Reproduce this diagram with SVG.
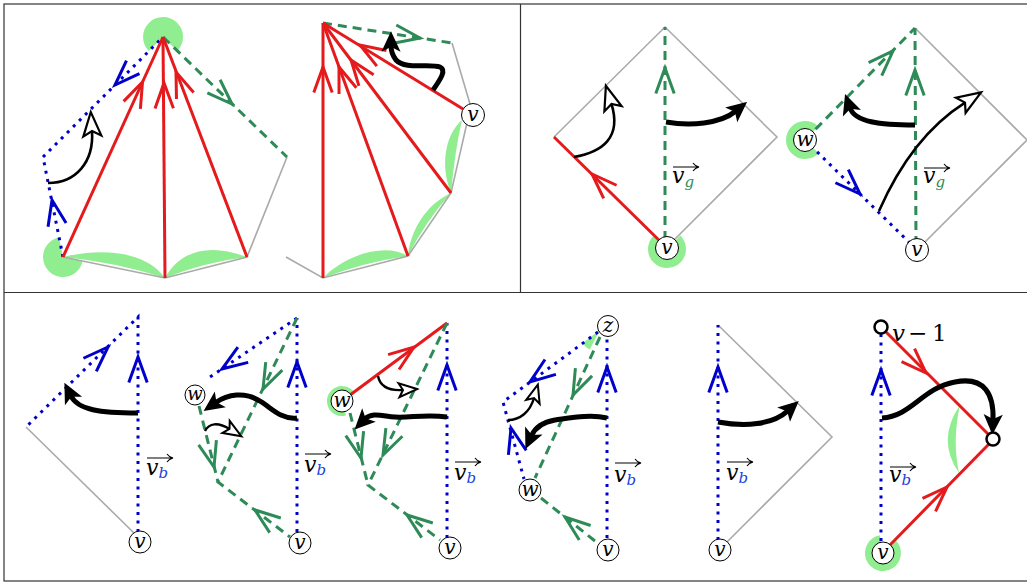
<svg xmlns="http://www.w3.org/2000/svg" xmlns:xlink="http://www.w3.org/1999/xlink" width="1027" height="583" viewBox="0 0 1027 583">
<style>
.gr{stroke:#aaa;stroke-width:1.6;fill:none}
.rd{stroke:#e41a1c;stroke-width:3;fill:none}
.gd{stroke:#2e8b57;stroke-width:3;fill:none;stroke-dasharray:9 6}
.bd{stroke:#0000cc;stroke-width:3;fill:none;stroke-dasharray:3 5.5}
.lg{fill:#90ee90;stroke:none}
.chr,.chg,.chb{fill:none;stroke-width:3;stroke-linejoin:miter}
.chr{stroke:#e41a1c}.chg{stroke:#2e8b57}.chb{stroke:#0000cc}
.thk{stroke:#000;stroke-width:5;fill:none;marker-end:url(#hf)}
.thn{stroke:#000;stroke-width:2.6;fill:none;marker-end:url(#ho)}
.ths{stroke:#000;stroke-width:2.4;fill:none;marker-end:url(#hs)}
.nd circle{fill:#fff;stroke:#000;stroke-width:1}
.nd text{font-family:"DejaVu Serif","Liberation Serif",serif;font-style:italic;font-size:20px;text-anchor:middle;fill:#000}
.sm circle{fill:#fff;stroke:#000;stroke-width:2.5}
.lbl{font-family:"DejaVu Serif","Liberation Serif",serif;font-style:italic;font-size:22px;fill:#000}
.sg{font-size:15px;fill:#2e8b57}
.sb{font-size:15px;fill:#2340d8}
.vec{stroke:#000;stroke-width:1.1;fill:none}
.frame{stroke:#333;stroke-width:1.2;fill:none}
</style>
<defs>
<path id="ch" d="M-25.4,-9.2 L0,0 L-25.4,9.2"/>
<marker id="hf" markerUnits="userSpaceOnUse" markerWidth="30" markerHeight="30" refX="0" refY="0" orient="auto" overflow="visible"><path d="M13,0 L-4,-8 L0,0 L-4,8 Z" fill="#000" stroke="#000" stroke-width="1.5"/></marker>
<marker id="ho" markerUnits="userSpaceOnUse" markerWidth="30" markerHeight="30" refX="0" refY="0" orient="auto" overflow="visible"><path d="M19,0 L-5,-9 L0,0 L-5,9 Z" fill="#fff" stroke="#000" stroke-width="2.2"/></marker>
<marker id="hs" markerUnits="userSpaceOnUse" markerWidth="30" markerHeight="30" refX="0" refY="0" orient="auto" overflow="visible"><path d="M14,0 L-4,-7 L0,0 L-4,7 Z" fill="#fff" stroke="#000" stroke-width="2"/></marker>
</defs>
<rect width="1027" height="583" fill="#fff"/>
<g id="frame">
<rect class="frame" x="4" y="4" width="1030" height="577"/>
<line class="frame" x1="4" y1="292.5" x2="1030" y2="292.5"/>
<line class="frame" x1="520.5" y1="4" x2="520.5" y2="292.5"/>
</g>

<!-- Panel 1 -->
<g id="panel1">
<path class="lg" d="M63,257 C100,248 145,250 165,278 Q115,262 63,257 Z"/>
<path class="lg" d="M165,278 C180,250 210,243 247,257 Q205,262 165,278 Z"/>
<path class="lg" d="M163,37 L148.9,51.1 A20,20 0 1 1 177.4,50.9 Z"/>
<path class="lg" d="M63,257 L82.6,261 A20,20 0 1 1 59,237.4 Z"/>
<g id="p1-connectors">
<polyline class="gr" points="63,257 165,278 247,257 287,157"/>
<line class="gd" x1="163" y1="37" x2="287" y2="157"/>
<polyline class="bd" points="63,257 43,157 163,37"/>
<line class="rd" x1="63" y1="257" x2="163" y2="37"/>
<line class="rd" x1="165" y1="278" x2="163" y2="37"/>
<line class="rd" x1="247" y1="257" x2="163" y2="37"/>
<use xlink:href="#ch" class="chb" transform="translate(52,200) rotate(-101.5)"/>
<use xlink:href="#ch" class="chb" transform="translate(115,85) rotate(135)"/>
<use xlink:href="#ch" class="chg" transform="translate(232,104) rotate(44)"/>
<use xlink:href="#ch" class="chr" transform="translate(142.5,82) rotate(-65.6)"/>
<use xlink:href="#ch" class="chr" transform="translate(164,83) rotate(-90.5)"/>
<use xlink:href="#ch" class="chr" transform="translate(176,72) rotate(-110.9)"/>
<path class="thn" d="M48,183 C76,183 94,162 92,131"/>
</g>
</g>

<!-- Panel 2 -->
<g id="panel2">
<path class="lg" d="M323,278 C345,255 385,242 408,256 Q365,262 323,278 Z"/>
<path class="lg" d="M408,256 C410,232 425,205 451,193 Q425,222 408,256 Z"/>
<path class="lg" d="M451,193 C440,165 445,135 462,120 Q455,150 451,193 Z"/>
<g id="p2-connectors">
<polyline class="gr" points="286,257 323,278 408,256 451,193 469,114"/>
<line class="gr" x1="470" y1="104" x2="452" y2="43"/>
<line class="gd" x1="323" y1="23" x2="452" y2="43"/>
<line class="rd" x1="323" y1="278" x2="323" y2="23"/>
<line class="rd" x1="408" y1="256" x2="323" y2="23"/>
<line class="rd" x1="451" y1="193" x2="323" y2="23"/>
<line class="rd" x1="463" y1="109" x2="323" y2="23"/>
<use xlink:href="#ch" class="chr" transform="translate(323,67) rotate(-90)"/>
<use xlink:href="#ch" class="chr" transform="translate(339,67) rotate(-110)"/>
<use xlink:href="#ch" class="chr" transform="translate(351,60) rotate(-127)"/>
<use xlink:href="#ch" class="chr" transform="translate(360,45) rotate(-148.5)"/>
<use xlink:href="#ch" class="chg" transform="translate(420,38) rotate(8.8)"/>
<path class="thk" d="M433,90 C440,80 447,70 440,67 C430,63 405,70 396,60 C393,56 391,52 391,46"/>
</g>
<g id="p2-v" class="nd"><circle cx="473" cy="115" r="11.5"/><text x="473" y="120.5">v</text></g>
</g>

<!-- Panel 3 -->
<g id="panel3">
<path class="lg" d="M667,249 L680.4,235.6 A19,19 0 1 1 653.5,235.7 Z"/>
<g id="p3-connectors">
<polyline class="gr" points="554,137 665,27 777,137 672,242"/>
<line class="rd" x1="667" y1="248" x2="554" y2="137"/>
<line class="gd" x1="665" y1="240" x2="665" y2="27"/>
<use xlink:href="#ch" class="chr" transform="translate(592,174) rotate(-135.5)"/>
<use xlink:href="#ch" class="chg" transform="translate(665,68) rotate(-90)"/>
<path class="thn" d="M574,157 C602,152 622,138 611.5,104"/>
<path class="thk" d="M666,122 C690,126 720,124 735.6,111.3"/>
</g>
<g id="p3-label"><text class="lbl" x="672" y="183">v<tspan class="sg" dx="0" dy="4">g</tspan></text><path class="vec" d="M673,167 H698 M693,163 Q695,166 699,167 Q695,168 693,171"/></g>
<g id="p3-v" class="nd"><circle cx="667" cy="248" r="11.5"/><text x="667" y="253.5">v</text></g>
</g>

<!-- Panel 4 -->
<g id="panel4">
<path class="lg" d="M805,140 L818.6,153.3 A19,19 0 1 1 818.3,126.4 Z"/>
<g id="p4-connectors">
<polyline class="gr" points="915,28 1027,140 917,250"/>
<line class="gd" x1="805" y1="140" x2="915" y2="28"/>
<line class="gd" x1="916" y1="245" x2="915" y2="28"/>
<line class="bd" x1="805" y1="140" x2="917" y2="250"/>
<use xlink:href="#ch" class="chg" transform="translate(893,51) rotate(-45.5)"/>
<use xlink:href="#ch" class="chg" transform="translate(915,70) rotate(-90)"/>
<use xlink:href="#ch" class="chb" transform="translate(860,194) rotate(44.5)"/>
<path class="thk" d="M915,125 C880,125 855,122 850,108"/>
<path class="thn" d="M879,211 C897,170 925,128 965,102.6"/>
</g>
<g id="p4-label"><text class="lbl" x="923" y="183">v<tspan class="sg" dx="0" dy="4">g</tspan></text><path class="vec" d="M924,168 H949 M944,164 Q946,167 950,168 Q946,169 944,172"/></g>
<g id="p4-w" class="nd"><circle cx="805" cy="140" r="11.5"/><text x="805" y="145.5">w</text></g>
<g id="p4-v" class="nd"><circle cx="917" cy="250" r="11.5"/><text x="917" y="255.5">v</text></g>
</g>

<!-- Panel 5 -->
<g id="panel5">
<g id="p5-connectors">
<line class="gr" x1="26" y1="427" x2="134" y2="533"/>
<polyline class="bd" points="138,532 138,317 26,427"/>
<use xlink:href="#ch" class="chb" transform="translate(138,357) rotate(-90)"/>
<use xlink:href="#ch" class="chb" transform="translate(108,347) rotate(-44.5)"/>
<path class="thk" d="M138,413 C100,413 78,410 71,396"/>
</g>
<g id="p5-label"><text class="lbl" x="146" y="475">v<tspan class="sb" dx="0" dy="3">b</tspan></text><path class="vec" d="M147,458 H172 M167,454 Q169,457 173,458 Q169,459 167,462"/></g>
<g id="p5-v" class="nd"><circle cx="140" cy="542" r="11"/><text x="140" y="547.5">v</text></g>
</g>

<!-- Panel 6 -->
<g id="panel6">
<g id="p6-connectors">
<line class="bd" x1="297" y1="532" x2="297" y2="318"/>
<line class="bd" x1="297" y1="318" x2="207" y2="379"/>
<polyline class="gd" points="297,318 218,482 290,537"/>
<line class="gd" x1="199" y1="406" x2="218" y2="482"/>
<use xlink:href="#ch" class="chb" transform="translate(297,362) rotate(-90)"/>
<use xlink:href="#ch" class="chb" transform="translate(222,369) rotate(145.9)"/>
<use xlink:href="#ch" class="chg" transform="translate(263,389) rotate(115.7)"/>
<use xlink:href="#ch" class="chg" transform="translate(214,467) rotate(75.2)"/>
<use xlink:href="#ch" class="chg" transform="translate(255,510) rotate(-142.9)"/>
<path class="thk" d="M297,418 C280,420 270,406 258,400 C245,392 228,394 215.7,402.6"/>
<path class="ths" d="M205,431 C209,423 218,422 229.5,429"/>
</g>
<g id="p6-label"><text class="lbl" x="304" y="472">v<tspan class="sb" dx="0" dy="3">b</tspan></text><path class="vec" d="M305,454 H330 M325,450 Q327,453 331,454 Q327,455 325,458"/></g>
<g id="p6-w" class="nd"><circle cx="195" cy="395" r="10"/><text x="195" y="400" style="font-size:18px">w</text></g>
<g id="p6-v" class="nd"><circle cx="300" cy="543" r="11"/><text x="300" y="548.5">v</text></g>
</g>

<!-- Panel 7 -->
<g id="panel7">
<path class="lg" d="M342,401 L345.9,415.5 A15,15 0 1 1 354.1,392.2 Z"/>
<g id="p7-connectors">
<line class="bd" x1="447" y1="538" x2="447" y2="323"/>
<line class="rd" x1="342" y1="401" x2="447" y2="323"/>
<polyline class="gd" points="447,323 368,485 440,540"/>
<line class="gd" x1="350" y1="413" x2="368" y2="485"/>
<use xlink:href="#ch" class="chr" transform="translate(414,347) rotate(-36.4)"/>
<use xlink:href="#ch" class="chb" transform="translate(447,365) rotate(-90)"/>
<use xlink:href="#ch" class="chg" transform="translate(383,455) rotate(116)"/>
<use xlink:href="#ch" class="chg" transform="translate(361,458) rotate(75.6)"/>
<use xlink:href="#ch" class="chg" transform="translate(407,515) rotate(-142.9)"/>
<path class="thk" d="M447,417 C425,414 410,418 395,417 C382,416 372,412 365,419"/>
<path class="ths" d="M378,376 C380,386 388,391 403,390"/>
</g>
<g id="p7-label"><text class="lbl" x="454" y="480">v<tspan class="sb" dx="0" dy="3">b</tspan></text><path class="vec" d="M455,462 H480 M475,458 Q477,461 481,462 Q477,463 475,466"/></g>
<g id="p7-w" class="nd"><circle cx="342" cy="401" r="11"/><text x="342" y="406.5">w</text></g>
<g id="p7-v" class="nd"><circle cx="450" cy="548" r="11"/><text x="450" y="553.5">v</text></g>
</g>

<!-- Panel 8 -->
<g id="panel8">
<path class="lg" d="M600,330 L589.7,349.4 A22,22 0 0 1 582.4,343.2 Z"/>
<g id="p8-connectors">
<line class="bd" x1="607" y1="538" x2="607" y2="337"/>
<polyline class="bd" points="598,332 503,402 524,479"/>
<line class="gd" x1="600" y1="337" x2="535" y2="478"/>
<line class="gd" x1="541" y1="498" x2="600" y2="545"/>
<use xlink:href="#ch" class="chb" transform="translate(607,367) rotate(-90)"/>
<use xlink:href="#ch" class="chb" transform="translate(530,382) rotate(143.6)"/>
<use xlink:href="#ch" class="chb" transform="translate(511,428) rotate(-104.4)"/>
<use xlink:href="#ch" class="chg" transform="translate(573,395) rotate(115)"/>
<use xlink:href="#ch" class="chg" transform="translate(565,517) rotate(-141.7)"/>
<path class="ths" d="M508,420 C520,420 530,412 534,398"/>
<path class="thk" d="M607,418 C590,414 570,418 555,420 C543,422 535,428 531.5,435.7"/>
</g>
<g id="p8-label"><text class="lbl" x="614" y="482">v<tspan class="sb" dx="0" dy="3">b</tspan></text><path class="vec" d="M615,463 H640 M635,459 Q637,462 641,463 Q637,464 635,467"/></g>
<g id="p8-z" class="nd"><circle cx="608" cy="326" r="10.5"/><text x="608" y="331.5">z</text></g>
<g id="p8-w" class="nd"><circle cx="530" cy="490" r="11"/><text x="530" y="495.5">w</text></g>
<g id="p8-v" class="nd"><circle cx="608" cy="550" r="11"/><text x="608" y="555.5">v</text></g>
</g>

<!-- Panel 9 -->
<g id="panel9">
<g id="p9-connectors">
<polyline class="gr" points="718,325 832,437 727,542"/>
<line class="bd" x1="718" y1="540" x2="718" y2="325"/>
<use xlink:href="#ch" class="chb" transform="translate(718,367) rotate(-90)"/>
<path class="thk" d="M718,422 C745,427 772,425 787.8,410.8"/>
</g>
<g id="p9-label"><text class="lbl" x="726" y="480">v<tspan class="sb" dx="0" dy="3">b</tspan></text><path class="vec" d="M727,462 H752 M747,458 Q749,461 753,462 Q749,463 747,466"/></g>
<g id="p9-v" class="nd"><circle cx="720" cy="550" r="11"/><text x="720" y="555.5">v</text></g>
</g>

<!-- Panel 10 -->
<g id="panel10">
<path class="lg" d="M883,553 L895.7,540.3 A18,18 0 1 1 879.9,535.3 Z"/>
<path class="lg" d="M960,405 Q936,440 959,473 Q952,440 960,405 Z"/>
<g id="p10-connectors">
<line class="bd" x1="881" y1="541" x2="881" y2="334"/>
<line class="rd" x1="886" y1="332" x2="989" y2="435"/>
<line class="rd" x1="889" y1="546" x2="989" y2="444"/>
<use xlink:href="#ch" class="chb" transform="translate(881,370) rotate(-90)"/>
<use xlink:href="#ch" class="chr" transform="translate(926,373) rotate(45)"/>
<use xlink:href="#ch" class="chr" transform="translate(947,487) rotate(-45)"/>
<path class="thk" d="M882,418 C912,416 922,388 955,382 C985,376 994,395 993,420"/>
</g>
<g id="p10-label"><text class="lbl" x="889" y="482">v<tspan class="sb" dx="0" dy="3">b</tspan></text><path class="vec" d="M890,467 H915 M910,463 Q912,466 916,467 Q912,468 910,471"/></g>
<g id="p10-top" class="sm"><circle cx="881" cy="327" r="6.5"/></g>
<g id="p10-right" class="sm"><circle cx="993" cy="439" r="6.5"/></g>
<text class="lbl" style="font-size:23px"><tspan x="892" y="341">v</tspan><tspan x="908" y="341" style="font-style:normal">−</tspan><tspan x="932" y="341" style="font-style:normal">1</tspan></text>
<g id="p10-v" class="nd"><circle cx="883" cy="553" r="11"/><text x="883" y="558.5">v</text></g>
</g>
</svg>
